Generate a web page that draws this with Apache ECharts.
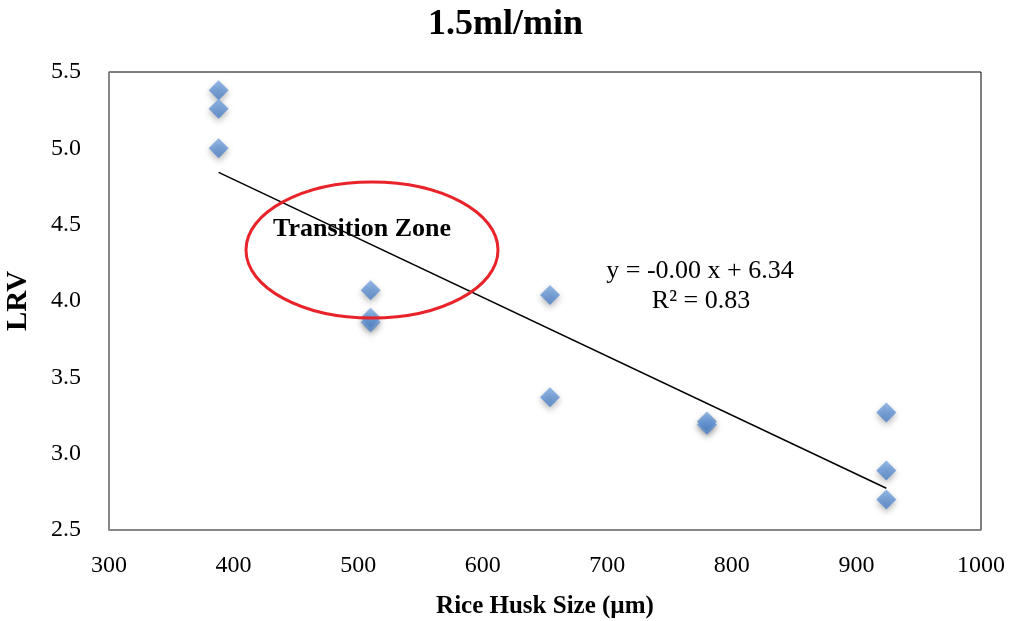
<!DOCTYPE html>
<html><head><meta charset="utf-8">
<script src="https://cdn.jsdelivr.net/npm/echarts@6/dist/echarts.min.js"></script>
<style>html,body{margin:0;padding:0;background:#fff}#c{width:1011px;height:621px}</style>
</head><body><div id="c"></div>
<script>
const huskSize = [388, 388, 388, 510, 510, 510, 654, 654, 780, 780, 924, 924, 924];
const lrv      = [5.38, 5.26, 5.00, 4.07, 3.89, 3.86, 4.04, 3.37, 3.21, 3.19, 3.27, 2.89, 2.70];
const trendX = [388, 924];
const slope = -0.00386, intercept = 6.34;
const xTicks = [300, 1000, 100];
const yTicks = [2.5, 5.5, 0.5];

const chart = echarts.init(document.getElementById('c'));
const serif = '"Liberation Serif", "Times New Roman", serif';
chart.setOption({
  animation: false,
  title: { text: '1.5ml/min', left: 'center', top: 2,
    textStyle: { fontFamily: serif, fontWeight: 'bold', fontSize: 36, color: '#000' } },
  grid: { left: 109, right: 30, top: 72, bottom: 91, show: true, borderColor: '#000', borderWidth: 1,
    outerBoundsMode: 'none', containLabel: false },
  xAxis: { type: 'value', min: xTicks[0], max: xTicks[1], interval: xTicks[2],
    name: 'Rice Husk Size (µm)', nameLocation: 'middle', nameGap: 64,
    nameTextStyle: { fontFamily: serif, fontWeight: 'bold', fontSize: 25, color: '#000' },
    axisLine: { lineStyle: { color: '#8a8a8a', width: 1.5 } }, axisTick: { show: false },
    splitLine: { show: false },
    axisLabel: { fontFamily: serif, fontSize: 24, color: '#000', margin: 24, formatter: v => String(v) } },
  yAxis: { type: 'value', min: yTicks[0], max: yTicks[1], interval: yTicks[2],
    name: 'LRV', nameLocation: 'middle', nameGap: 76, nameRotate: 90,
    nameTextStyle: { fontFamily: serif, fontWeight: 'bold', fontSize: 29, color: '#000' },
    axisLine: { show: true, lineStyle: { color: '#8a8a8a', width: 1.5 } }, axisTick: { show: false },
    splitLine: { show: false },
    axisLabel: { fontFamily: serif, fontSize: 24, color: '#000', margin: 28, padding: [6, 0, 0, 0],
      formatter: v => v.toFixed(1) } },
  series: [
    { type: 'line', data: trendX.map(x => [x, intercept + slope * x]), symbol: 'none',
      lineStyle: { color: '#000', width: 1.5 }, z: 2 },
    { type: 'scatter', data: huskSize.map((x, i) => [x, lrv[i]]), symbol: 'diamond', symbolSize: 20,
      itemStyle: { color: new echarts.graphic.LinearGradient(0, 0, 0, 1,
          [{ offset: 0, color: '#7aa7e0' }, { offset: 1, color: '#4a7fc8' }]),
        shadowColor: 'rgba(0,0,0,0.35)', shadowBlur: 6, shadowOffsetY: 3 }, z: 3 }
  ],
  graphic: [
    { type: 'ellipse', shape: { cx: 372, cy: 250, rx: 126, ry: 68 },
      style: { fill: 'none', stroke: '#e8232a', lineWidth: 3 }, z: 10 },
    { type: 'text', x: 362, y: 229, style: { text: 'Transition Zone', fontFamily: serif,
      fontWeight: 'bold', fontSize: 26, fill: '#000', align: 'center', verticalAlign: 'middle' }, z: 11 },
    { type: 'text', x: 700, y: 271, style: { text: 'y = -0.00 x + 6.34', fontFamily: serif,
      fontSize: 26, fill: '#000', align: 'center', verticalAlign: 'middle' }, z: 11 },
    { type: 'text', x: 701, y: 301, style: { text: 'R² = 0.83', fontFamily: serif,
      fontSize: 26, fill: '#000', align: 'center', verticalAlign: 'middle' }, z: 11 }
  ]
});
</script></body></html>
